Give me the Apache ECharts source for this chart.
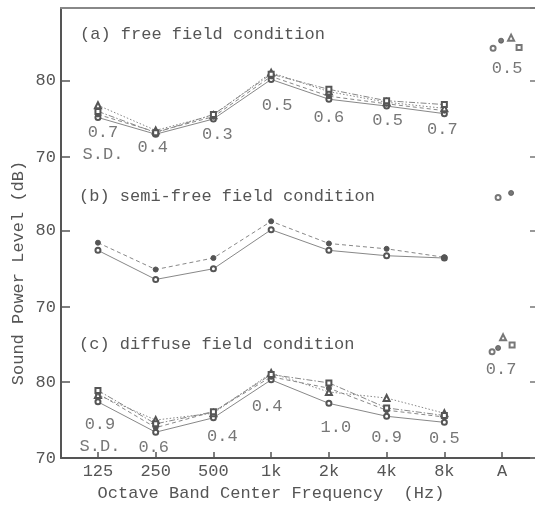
<!DOCTYPE html>
<html>
<head>
<meta charset="utf-8">
<script src="https://cdn.jsdelivr.net/npm/echarts@6/dist/echarts.min.js"></script>
<style>
  html, body { margin: 0; padding: 0; background: #fff; }
  #main { width: 535px; height: 508px; }
</style>
</head>
<body>
<div id="main"></div>
<script>
// octave bands + overall A-weighted level
const categories = ["125", "250", "500", "1k", "2k", "4k", "8k", "A"];

// (a) free field condition
const freeSolid = [75.2, 73.0, 75.0, 80.2, 77.6, 76.7, 75.7];
const freeDashed = [75.6, 73.3, 75.3, 80.6, 78.0, 77.0, 76.1];
const freeDotted = [76.8, 73.5, 75.5, 81.1, 78.6, 77.2, 76.4];
const freeDashDot = [76.0, 73.2, 75.6, 80.9, 78.9, 77.4, 76.9];
const freeA = [84.3, 85.3, 85.7, 84.4];
const freeSD = ["0.7", "0.4", "0.3", "0.5", "0.6", "0.5", "0.7", "0.5"];

// (b) semi-free field condition
const semiSolid = [77.4, 73.6, 75.0, 80.1, 77.4, 76.7, 76.4];
const semiDashed = [78.4, 74.9, 76.4, 81.2, 78.3, 77.6, 76.5];
const semiA = [84.3, 84.9];

// (c) diffuse field condition
const diffSolid = [77.4, 73.4, 75.3, 80.3, 77.2, 75.5, 74.7];
const diffDashed = [78.5, 74.0, 76.1, 80.7, 79.2, 76.3, 75.4];
const diffDotted = [78.3, 75.0, 75.9, 81.2, 78.7, 77.9, 75.9];
const diffDashDot = [78.9, 74.5, 76.1, 81.0, 79.9, 76.6, 75.6];
const diffA = [84.0, 84.5, 85.9, 84.9];
const diffSD = ["0.9", "0.6", "0.4", "0.4", "1.0", "0.9", "0.5", "0.7"];

// label placement (pixels, relative to the lowest point of each band)
const freeSdOffset = [[5, 26], [-3, 13], [4, 16], [6, 26], [0, 18], [1, 14], [-2, 16], [5, 20]];
const diffSdOffset = [[2, 34], [-2, 15], [9, 19], [-4, 27], [7, 24], [0, 21], [0, 16], [-1, 18]];

const FONT = "Liberation Mono";
const TXT = "#555";

const styles = {
  solid: { symbol: "emptyCircle", size: 5, line: "solid" },
  dashed: { symbol: "circle", size: 5, line: [4, 3] },
  dotted: { symbol: "emptyTriangle", size: 6, line: [1.5, 2] },
  dashDot: { symbol: "emptyRect", size: 5, line: [6, 2, 1.5, 2] },
};

function lineSeries(idx, values, st, aValue, aShift) {
  const common = {
    xAxisIndex: idx,
    yAxisIndex: idx,
    symbol: st.symbol,
    symbolSize: st.size,
    itemStyle: { color: "#555", borderColor: "#555", borderWidth: 1 },
    silent: true,
  };
  return [
    Object.assign({
      type: "line",
      data: values.map((v, i) => [i, v]),
      lineStyle: { color: "#888", width: 1, type: st.line },
    }, common),
    Object.assign({
      type: "scatter",
      data: [[7, aValue]],
      symbolOffset: [aShift, 0],
    }, common),
  ];
}

function sdSeries(idx, lines, aVals, sd, offs) {
  const data = sd.map((s, i) => {
    const low = i < 7 ? Math.min(...lines.map((l) => l[i])) : Math.min(...aVals);
    return {
      value: [i, low],
      label: { formatter: i === 0 ? s + "\nS.D." : s, offset: offs[i] },
    };
  });
  return {
    type: "scatter",
    xAxisIndex: idx,
    yAxisIndex: idx,
    symbolSize: 0,
    silent: true,
    label: {
      show: true,
      position: "inside",
      color: TXT,
      fontFamily: FONT,
      fontSize: 17,
      lineHeight: 22,
    },
    data: data,
  };
}

const gridTops = [8, 157, 307];
const gridHeights = [149, 150, 151];
const yMax = [89.6, 89.6, 89.9];

const xAxes = [0, 1, 2].map((i) => ({
  type: "value",
  gridIndex: i,
  min: -0.64,
  max: 7.57,
  position: i === 0 ? "top" : "bottom",
  show: i !== 1,
  splitLine: { show: false },
  axisLine: {
    show: true,
    onZero: false,
    lineStyle: { color: i === 0 ? "#888" : "#555", width: 2 },
  },
  axisTick: {
    show: i === 2,
    inside: true,
    length: 6,
    customValues: [0, 1, 2, 3, 4, 5, 6, 7],
    lineStyle: { color: "#555", width: 1.5 },
  },
  axisLabel: {
    show: i === 2,
    customValues: [0, 1, 2, 3, 4, 5, 6, 7],
    formatter: (v) => categories[Math.round(v)],
    margin: 5,
    color: TXT,
    fontFamily: FONT,
    fontSize: 17,
  },
}));

const yLeft = [0, 1, 2].map((i) => ({
  type: "value",
  gridIndex: i,
  position: "left",
  min: 70,
  max: yMax[i],
  interval: 10,
  splitLine: { show: false },
  axisLine: { show: true, onZero: false, lineStyle: { color: "#555", width: 2 } },
  axisTick: { inside: true, length: 9, lineStyle: { color: "#555", width: 1.5 } },
  axisLabel: {
    margin: 5,
    color: TXT,
    fontFamily: FONT,
    fontSize: 17,
    showMaxLabel: false,
  },
}));

const yRight = [0, 1, 2].map((i) => ({
  type: "value",
  gridIndex: i,
  position: "right",
  min: 70,
  max: yMax[i],
  interval: 10,
  splitLine: { show: false },
  axisLine: { show: false, onZero: false },
  axisTick: { inside: true, length: 5, lineStyle: { color: "#777", width: 1.5 } },
  axisLabel: { show: false },
}));

const series = [].concat(
  lineSeries(0, freeSolid, styles.solid, freeA[0], -9),
  lineSeries(0, freeDashed, styles.dashed, freeA[1], -1),
  lineSeries(0, freeDotted, styles.dotted, freeA[2], 9),
  lineSeries(0, freeDashDot, styles.dashDot, freeA[3], 17),
  [sdSeries(0, [freeSolid, freeDashed, freeDotted, freeDashDot], freeA, freeSD, freeSdOffset)],
  lineSeries(1, semiSolid, styles.solid, semiA[0], -4),
  lineSeries(1, semiDashed, styles.dashed, semiA[1], 9),
  lineSeries(2, diffSolid, styles.solid, diffA[0], -10),
  lineSeries(2, diffDashed, styles.dashed, diffA[1], -4),
  lineSeries(2, diffDotted, styles.dotted, diffA[2], 1),
  lineSeries(2, diffDashDot, styles.dashDot, diffA[3], 10),
  [sdSeries(2, [diffSolid, diffDashed, diffDotted, diffDashDot], diffA, diffSD, diffSdOffset)]
);

const titleStyle = { color: TXT, fontFamily: FONT, fontSize: 17, fontWeight: "normal" };

const chart = echarts.init(document.getElementById("main"));
chart.setOption({
  animation: false,
  backgroundColor: "#fff",
  title: [
    { text: "(a) free field condition", left: 80, top: 26, padding: 0, textStyle: titleStyle },
    { text: "(b) semi-free field condition", left: 79, top: 188, padding: 0, textStyle: titleStyle },
    { text: "(c) diffuse field condition", left: 79, top: 336, padding: 0, textStyle: titleStyle },
  ],
  grid: [0, 1, 2].map((i) => ({
    left: 61,
    right: 0,
    top: gridTops[i],
    height: gridHeights[i],
  })),
  xAxis: xAxes,
  yAxis: yLeft.concat(yRight),
  series: series,
  graphic: [
    {
      type: "text",
      x: 18,
      y: 273,
      rotation: Math.PI / 2,
      style: {
        text: "Sound Power Level (dB)",
        fill: TXT,
        font: "17px '" + FONT + "'",
        align: "center",
        verticalAlign: "middle",
      },
    },
    {
      type: "text",
      x: 271,
      y: 493,
      style: {
        text: "Octave Band Center Frequency  (Hz)",
        fill: TXT,
        font: "17px '" + FONT + "'",
        align: "center",
        verticalAlign: "middle",
      },
    },
  ],
});
</script>
</body>
</html>
